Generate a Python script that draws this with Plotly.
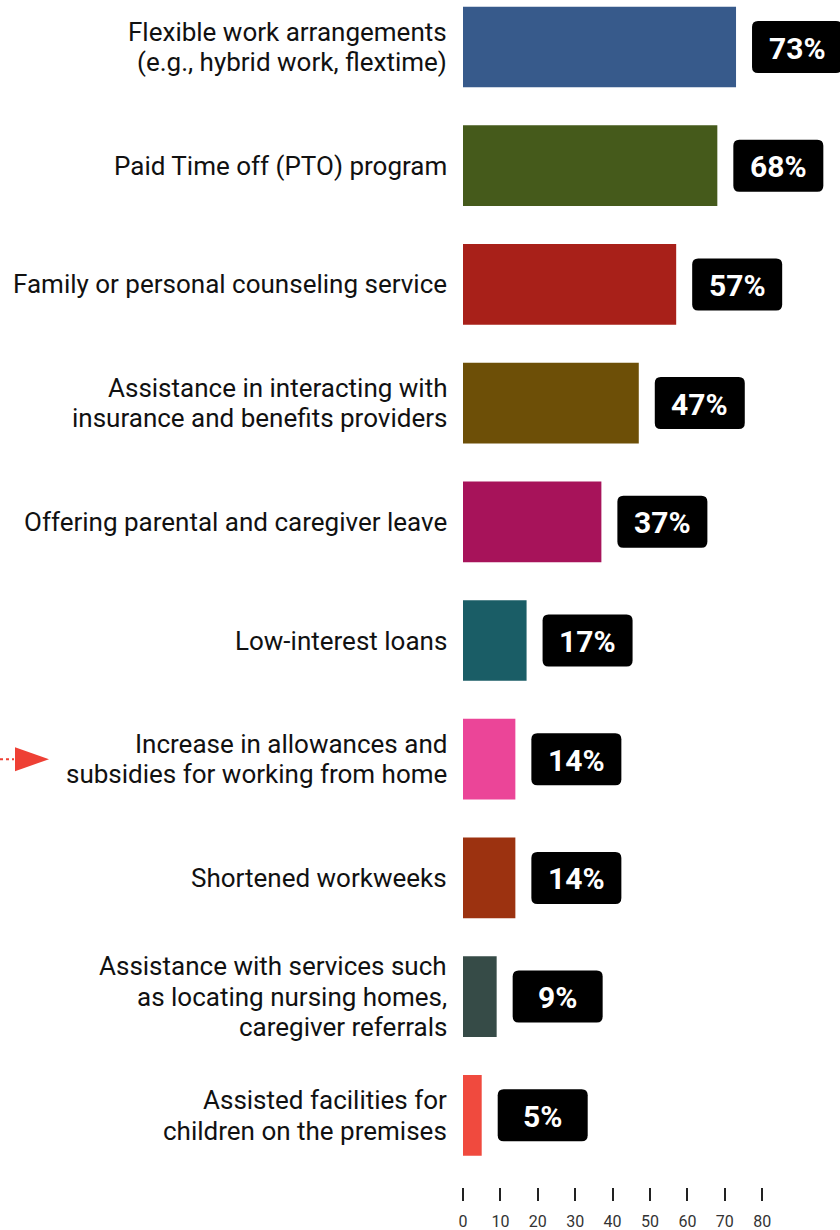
import plotly.graph_objects as go

categories = [
    "Flexible work arrangements<br>(e.g., hybrid work, flextime)",
    "Paid Time off (PTO) program",
    "Family or personal counseling service",
    "Assistance in interacting with<br>insurance and benefits providers",
    "Offering parental and caregiver leave",
    "Low-interest loans",
    "Increase in allowances and<br>subsidies for working from home",
    "Shortened workweeks",
    "Assistance with services such<br>as locating nursing homes,<br>caregiver referrals",
    "Assisted facilities for<br>children on the premises",
]
values = [73, 68, 57, 47, 37, 17, 14, 14, 9, 5]
colors = ["#375A8B", "#455A1B", "#A82019", "#6D4F07", "#A7135A",
          "#1A5D66", "#EB4598", "#9C3210", "#364B47", "#F04A3E"]
x_ticks = [0, 10, 20, 30, 40, 50, 60, 70, 80]
highlight_index = 6

positions = list(range(len(categories)))
y_range = [9.604, -0.396]

fig = go.Figure()
fig.add_trace(go.Bar(
    x=values, y=positions, orientation="h",
    marker=dict(color=colors, line=dict(width=0)),
    width=0.68, hoverinfo="skip",
))


def rounded_box(x0, w, h, r):
    # rounded rectangle path in pixel units, vertically centred on the anchor
    x1 = x0 + w
    y0, y1 = -h / 2, h / 2
    return (f"M {x0 + r},{y0} L {x1 - r},{y0} Q {x1},{y0} {x1},{y0 + r} "
            f"L {x1},{y1 - r} Q {x1},{y1} {x1 - r},{y1} L {x0 + r},{y1} "
            f"Q {x0},{y1} {x0},{y1 - r} L {x0},{y0 + r} Q {x0},{y0} {x0 + r},{y0} Z")


box_gap, box_w, box_h = 16, 90, 52
for pos, v in zip(positions, values):
    fig.add_shape(
        type="path", xref="x", yref="y",
        xsizemode="pixel", ysizemode="pixel",
        xanchor=v, yanchor=pos,
        path=rounded_box(box_gap, box_w, box_h, 6),
        fillcolor="#000000", line=dict(width=0), layer="above",
    )
    fig.add_annotation(
        x=v, y=pos, xref="x", yref="y",
        text=f"<b>{v}%</b>", showarrow=False,
        xanchor="center", yanchor="middle",
        xshift=box_gap + box_w / 2, yshift=-1,
        font=dict(family="Roboto", size=30, color="#FFFFFF"),
    )

# category labels, one annotation per line for tighter line spacing
line_gap = 30.5
for pos, label in zip(positions, categories):
    lines = label.split("<br>")
    n = len(lines)
    for k, line in enumerate(lines):
        fig.add_annotation(
            x=0, y=pos, xref="paper", yref="y",
            text=line, showarrow=False,
            xanchor="right", yanchor="middle",
            xshift=-14, yshift=((n - 1) / 2 - k) * line_gap,
            font=dict(family="Roboto", size=26, color="#111111"),
        )

# pointer marking the highlighted row (paper coords so it is not clipped)
pointer_y = (y_range[0] - highlight_index) / (y_range[0] - y_range[1])
fig.add_shape(
    type="path", xref="paper", yref="paper",
    xsizemode="pixel", ysizemode="pixel",
    xanchor=0, yanchor=pointer_y,
    path="M -448,12 L -414,0 L -448,-12 Z",
    fillcolor="#EE4035", line=dict(width=0),
)
fig.add_shape(
    type="line", xref="paper", yref="paper",
    xsizemode="pixel", ysizemode="pixel",
    xanchor=0, yanchor=pointer_y,
    x0=-463, x1=-449, y0=0, y1=0,
    line=dict(color="#EE4035", width=2, dash="dot"),
)

fig.update_layout(
    width=840, height=1230,
    margin=dict(l=463, r=0, t=0, b=43),
    plot_bgcolor="#FFFFFF", paper_bgcolor="#FFFFFF",
    showlegend=False,
    font=dict(family="Roboto", color="#111111"),
    xaxis=dict(
        range=[0, 100.8], tickvals=x_ticks, showgrid=False, zeroline=False,
        showline=False, ticks="outside", ticklen=13, tickwidth=1.5,
        tickcolor="#222222", tickfont=dict(size=16, color="#333333"),
        ticklabelstandoff=7, fixedrange=True,
    ),
    yaxis=dict(
        range=y_range, tickvals=positions, showticklabels=False,
        showgrid=False, zeroline=False, showline=False, ticks="",
        fixedrange=True,
    ),
)

fig.write_html("out.html")
